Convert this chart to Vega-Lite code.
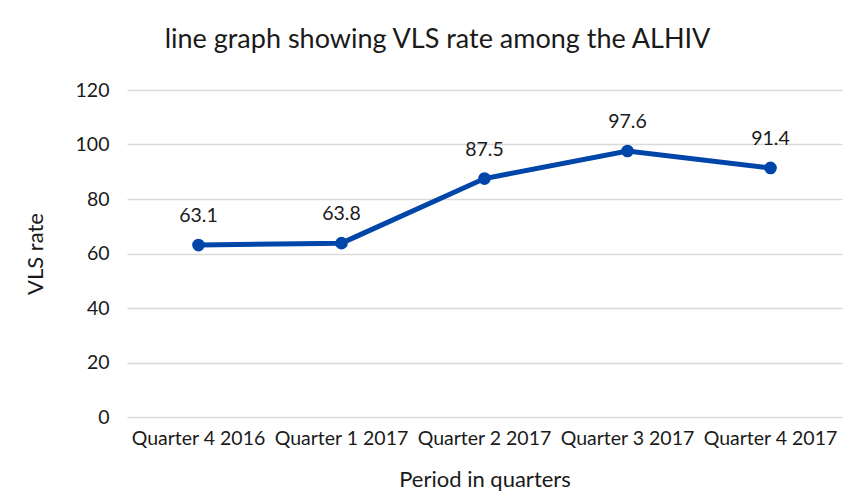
{
  "$schema": "https://vega.github.io/schema/vega-lite/v6.json",
  "autosize": "none",
  "width": 715,
  "height": 327,
  "padding": {"left": 127, "top": 90, "right": 20, "bottom": 82},
  "background": "white",
  "config": {
    "font": "Lato",
    "view": {"stroke": null},
    "axis": {"labelFont": "Lato", "titleFont": "Lato", "labelColor": "#1a1a1a", "titleColor": "#1a1a1a", "titleFontWeight": "normal", "domain": false, "ticks": false}
  },
  "title": {"text": "line graph showing VLS rate among the ALHIV", "fontSize": 27, "fontWeight": "normal", "color": "#1a1a1a", "anchor": "middle", "dx": -47, "offset": 26, "font": "Lato"},
  "data": {"values": [
    {"period": "Quarter 4 2016", "rate": 63.1},
    {"period": "Quarter 1 2017", "rate": 63.8},
    {"period": "Quarter 2 2017", "rate": 87.5},
    {"period": "Quarter 3 2017", "rate": 97.6},
    {"period": "Quarter 4 2017", "rate": 91.4}
  ]},
  "encoding": {
    "x": {"field": "period", "type": "nominal", "sort": null, "scale": {"type": "band", "paddingInner": 0, "paddingOuter": 0},
      "axis": {"title": "Period in quarters", "labelAngle": 0, "labelFontSize": 19.5, "titleFontSize": 22, "labelPadding": 12, "titlePadding": 22, "grid": false}},
    "y": {"field": "rate", "type": "quantitative", "scale": {"domain": [0, 120]},
      "axis": {"title": "VLS rate", "values": [0, 20, 40, 60, 80, 100, 120], "labelFontSize": 19.5, "titleFontSize": 22, "labelPadding": 18, "titlePadding": 28, "gridColor": "#D9D9D9", "gridWidth": 1.3}}
  },
  "layer": [
    {"mark": {"type": "line", "color": "#0046A8", "strokeWidth": 5}},
    {"mark": {"type": "point", "filled": true, "color": "#0046A8", "size": 160, "opacity": 1}},
    {"mark": {"type": "text", "baseline": "alphabetic", "dy": -23, "fontSize": 19.5, "color": "#1a1a1a", "font": "Lato"}, "encoding": {"text": {"field": "rate", "type": "quantitative", "format": ".1f"}}}
  ]
}
